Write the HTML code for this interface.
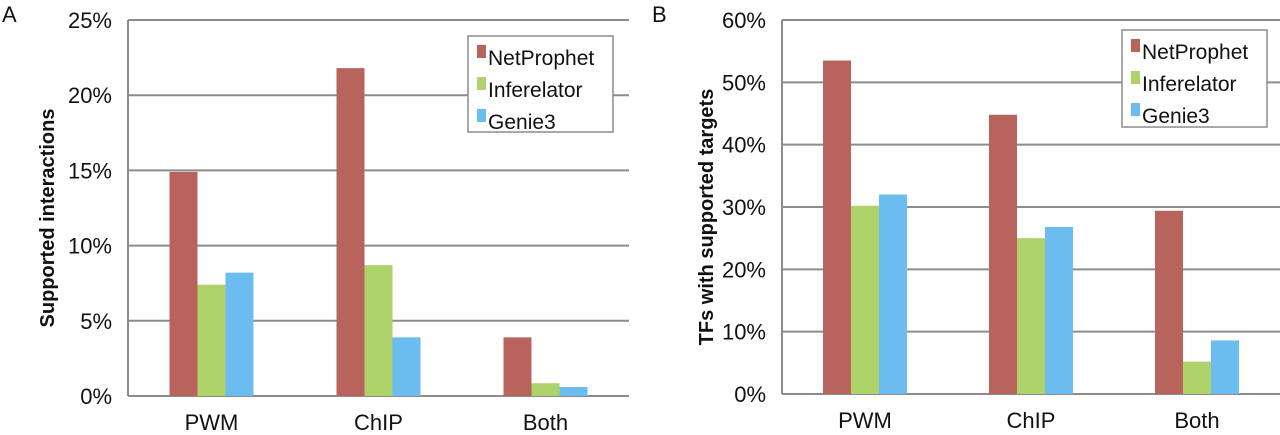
<!DOCTYPE html>
<html><head><meta charset="utf-8"><style>
body{margin:0;background:#fff;width:1280px;height:430px;overflow:hidden}
svg text{font-family:"Liberation Sans",Arial,sans-serif;fill:#111}
</style></head><body>
<svg id="c" width="1280" height="430"></svg>
<script>
const categories = ["PWM","ChIP","Both"];
const seriesNames = ["NetProphet","Inferelator","Genie3"];
const colors = ["#b8645c","#aed36a","#6bbcef"];
const aNetProphet = [14.9,21.8,3.9];
const aInferelator = [7.4,8.7,0.85];
const aGenie3 = [8.2,3.9,0.6];
const aTicks = [0,5,10,15,20,25];
const bNetProphet = [53.5,44.8,29.4];
const bInferelator = [30.2,25.0,5.2];
const bGenie3 = [32.0,26.8,8.6];
const bTicks = [0,10,20,30,40,50,60];

const NS="http://www.w3.org/2000/svg";
const svg=document.getElementById('c');
function mk(tag,attrs,parent){const e=document.createElementNS(NS,tag);for(const k in attrs)e.setAttribute(k,attrs[k]);(parent||svg).appendChild(e);return e;}

function chart(cfg){
  const g=mk('g',{});
  
  
  const max=cfg.ticks[cfg.ticks.length-1];
  const y=v=>cfg.y0-(v/max)*(cfg.y0-cfg.y1);
  const step=(cfg.x1-cfg.x0)/categories.length;
  const bw=cfg.bw;
  cfg.ticks.forEach(t=>{
    const l=mk('line',{x1:cfg.x0,x2:cfg.x1,y1:y(t),y2:y(t),stroke:'#8c8c8c','stroke-width':2},g);
    
    
    const tx=mk('text',{x:cfg.x0-16,y:y(t)+8,'text-anchor':'end','font-size':22},g);
    tx.textContent=t+'%';
    
    
  });
  const ax=mk('line',{x1:cfg.x0,x2:cfg.x0,y1:cfg.y1,y2:cfg.y0,stroke:'#8c8c8c','stroke-width':2},g);
  
  
  categories.forEach((c,i)=>{
    const cx=cfg.x0+step*(i+0.5);
    cfg.series.forEach((s,j)=>{
      const v=s[i];
      const r=mk('rect',{x:cx-1.5*bw+j*bw,y:y(v),width:bw,height:y(0)-y(v),fill:colors[j]},g);
      
      
    });
    const t=mk('text',{x:cx,y:cfg.y0+34,'text-anchor':'middle','font-size':22},g);
    t.textContent=c;
    
    
  });
  const yt=mk('text',{x:0,y:0,'text-anchor':'middle','font-size':20,'font-weight':'bold',transform:`translate(${cfg.titleX},${(cfg.y0+cfg.y1)/2+10}) rotate(-90)`},g);
  yt.textContent=cfg.title;
  
  
  const lg=mk('g',{},g);
  
  
  mk('rect',{x:cfg.lx,y:cfg.ly,width:cfg.lw,height:cfg.lh,fill:'#fff',stroke:'#8c8c8c','stroke-width':1.5},lg);
  seriesNames.forEach((n,j)=>{
    const e=mk('g',{},lg);
    
    
    const yy=cfg.ly+22+j*32;
    mk('rect',{x:cfg.lx+9,y:yy-13,width:9,height:13,fill:colors[j]},e);
    const t=mk('text',{x:cfg.lx+20,y:yy+7,'font-size':21},e);
    t.textContent=n;
  });
  const p=mk('text',{x:cfg.px,y:22,'font-size':22},g);
  p.textContent=cfg.panel;
  
  
}
chart({name:'chart-a',panel:'A',px:2,x0:128,x1:629,y0:396,y1:20,bw:28,ticks:aTicks,series:[aNetProphet,aInferelator,aGenie3],title:'Supported interactions',titleX:54,lx:468,ly:36,lw:145,lh:96});
chart({name:'chart-b',panel:'B',px:652,x0:782,x1:1280,y0:394,y1:20,bw:28,ticks:bTicks,series:[bNetProphet,bInferelator,bGenie3],title:'TFs with supported targets',titleX:713,lx:1122,ly:30,lw:145,lh:97});
</script>
</body></html>
